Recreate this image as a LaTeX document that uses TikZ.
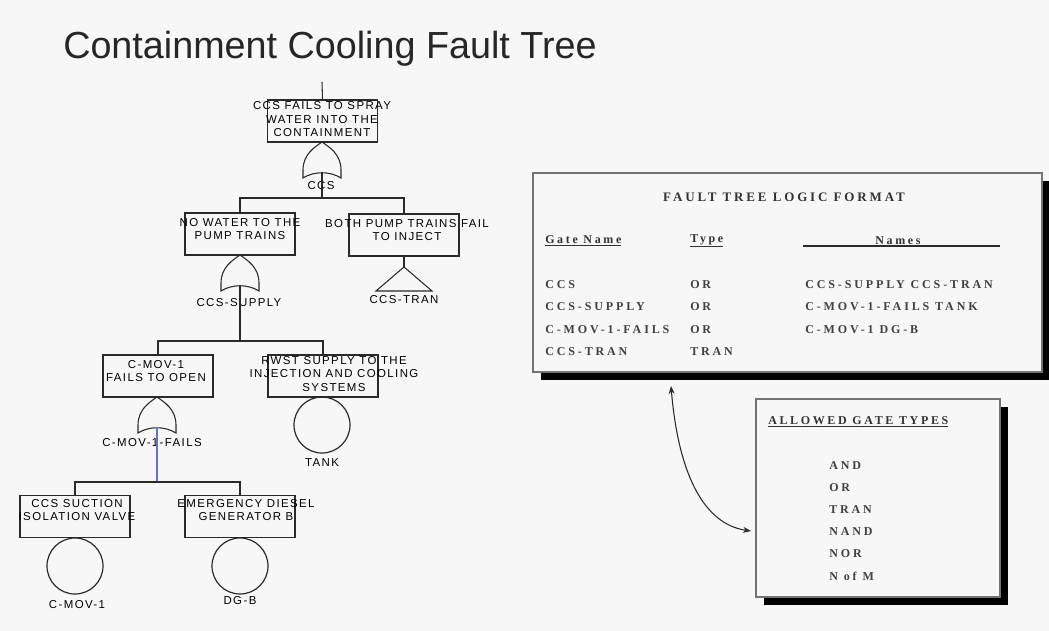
\documentclass[tikz,border=0pt]{standalone}
\usepackage{fontspec}
\usetikzlibrary{arrows.meta,shadows}
\newfontfamily\titlefont{Liberation Sans}
\newfontfamily\treefont[LetterSpace=12]{Liberation Sans}
\newfontfamily\tabfont[LetterSpace=24]{Liberation Serif}
\newfontfamily\tabheadfont[LetterSpace=22]{Liberation Serif}
\definecolor{bg}{HTML}{F7F7F7}
\definecolor{ink}{HTML}{2A2A2A}
\definecolor{bluish}{HTML}{6E6EC8}
\tikzset{
  treebox/.style={draw=ink, line width=0.9pt, minimum width=82.5pt, minimum height=31.5pt, inner sep=0pt},
  treetext/.style={font=\treefont\fontsize{8.6}{10.1}\selectfont, text=black, align=center, inner sep=0pt},
  gatelabel/.style={font=\treefont\fontsize{8.6}{10.1}\selectfont, text=black, inner sep=0pt},
  event/.style={circle, draw=ink, line width=0.9pt, minimum size=42pt, inner sep=0pt},
  conn/.style={draw=ink, line width=0.8pt},
  panel/.style={draw=black!55, line width=1.2pt, fill=bg, inner sep=0pt,
    drop shadow={shadow xshift=6pt, shadow yshift=-6pt, fill=black, opacity=1}},
  tabtext/.style={font=\tabfont\bfseries\fontsize{9}{11}\selectfont, text=black!75, inner sep=0pt, anchor=west},
  tabhead/.style={font=\tabheadfont\bfseries\fontsize{9}{11}\selectfont, text=black!80, inner sep=0pt},
  orgate/.pic={
    \draw[ink, line width=0.8pt] (0,0) .. controls (7,5) and (19,12) .. (19,28) -- (19,36)
      .. controls (8,29) and (-8,29) .. (-19,36) -- (-19,28) .. controls (-19,12) and (-7,5) .. (0,0) -- cycle;
    \coordinate (-top) at (0,0);
    \coordinate (-bot) at (0,30);
  }
}
\begin{document}
\begin{tikzpicture}[x=0.75pt, y=-0.75pt]
\useasboundingbox (0,0) rectangle (1049,631);
\fill[bg] (0,0) rectangle (1049,631);

% title
\node[font=\titlefont\fontsize{28.3}{34}\selectfont, text=black!85, anchor=base west, inner sep=0pt] (title) at (63,59) {Containment Cooling Fault Tree};

% ---------- tree ----------
\coordinate (top) at (322,82);
\node[treebox] (b1) at (322.5,121) {};
\node[treetext] (t1) at (322,119.5) {CCS FAILS TO SPRAY\\WATER INTO THE\\CONTAINMENT};
\draw[conn] (top) -- (b1.north);
\pic (g1) at (322,142) {orgate};
\node[gatelabel] (l1) at (321,186) {CCS};
\coordinate (j1) at (322,198);
\draw[conn] (g1-bot) -- (j1);

\node[treebox] (b2) at (240,234) {};
\node[treetext] (t2) at (240,229) {NO WATER TO THE\\PUMP TRAINS};
\node[treebox] (b3) at (404,235) {};
\node[treetext] (t3) at (407,230) {BOTH PUMP TRAINS FAIL\\TO INJECT};
\draw[conn] (b2.north) |- (j1) -| (b3.north);

% transfer
\coordinate (tr) at (404,267);
\draw[conn] (b3.south) -- (tr);
\draw[ink, line width=0.8pt] (tr) -- ++(28,24) -- ++(-56,0) -- cycle;
\node[gatelabel] (l2) at (404,300) {CCS-TRAN};

\pic (g2) at (240,255) {orgate};
\node[gatelabel] (l3) at (239,303) {CCS-SUPPLY};
\coordinate (j2) at (240,341);
\draw[conn] (g2-bot) -- (j2);

\node[treebox] (b4) at (158,376) {};
\node[treetext] (t4) at (156,371) {C-MOV-1\\FAILS TO OPEN};
\node[treebox] (b5) at (323,376) {};
\node[treetext] (t5) at (334,374) {RWST SUPPLY TO THE\\INJECTION AND COOLING\\SYSTEMS};
\draw[conn] (b4.north) |- (j2) -| (b5.north);

\node[event] (e1) at (322,425) {};
\node[gatelabel] (l4) at (322,463) {TANK};

\pic (g3) at (157,397) {orgate};
\node[gatelabel] (l5) at (152,443) {C-MOV-1-FAILS};
\coordinate (j3) at (157,482);
\draw[draw=bluish, line width=0.8pt] (g3-bot) -- (j3);

\node[treebox] (b6) at (75,516.5) {};
\node[treetext] (t6) at (77,510) {CCS SUCTION\\ISOLATION VALVE};
\node[treebox] (b7) at (240,516.5) {};
\node[treetext] (t7) at (246,510) {EMERGENCY DIESEL\\GENERATOR B};
\draw[conn] (b6.north) |- (j3) -| (b7.north);

\node[event] (e2) at (75,566) {};
\node[gatelabel] (l6) at (77,605) {C-MOV-1};
\node[event] (e3) at (240,566) {};
\node[gatelabel] (l7) at (240,601) {DG-B};

% ---------- logic format panel ----------
\node[panel, minimum width=381.75pt, minimum height=149.25pt] (p1) at (787.5,272.5) {};
\node[font=\tabheadfont\bfseries\fontsize{9.75}{12}\selectfont, text=black!80, inner sep=0pt] (ph) at (784,197) {FAULT TREE LOGIC FORMAT};
\node[tabhead, anchor=west] (h1) at (545,241) {\underline{Gate Name}};
\node[tabhead, anchor=west] (h2) at (690,241) {\underline{Type}};
\node[tabhead] (h3) at (898,241) {Names};
\coordinate (nl) at (803,246);
\coordinate (nr) at (1000,246);
\draw[ink, line width=0.9pt] (nl) -- (nr);

\node[tabtext] (r1a) at (545,285) {CCS};
\node[tabtext] (r1b) at (690,285) {OR};
\node[tabtext] (r1c) at (805,285) {CCS-SUPPLY CCS-TRAN};
\node[tabtext] (r2a) at (545,307) {CCS-SUPPLY};
\node[tabtext] (r2b) at (690,307) {OR};
\node[tabtext] (r2c) at (805,307) {C-MOV-1-FAILS TANK};
\node[tabtext] (r3a) at (545,330) {C-MOV-1-FAILS};
\node[tabtext] (r3b) at (690,330) {OR};
\node[tabtext] (r3c) at (805,330) {C-MOV-1 DG-B};
\node[tabtext] (r4a) at (545,352) {CCS-TRAN};
\node[tabtext] (r4b) at (690,352) {TRAN};

% ---------- allowed gate types panel ----------
\node[panel, minimum width=183pt, minimum height=148.5pt] (p2) at (878,498) {};
\node[tabhead, anchor=west] (ah) at (768,422) {\underline{ALLOWED GATE TYPES}};
\node[tabtext] (a1) at (829,466) {AND};
\node[tabtext] (a2) at (829,488) {OR};
\node[tabtext] (a3) at (829,510) {TRAN};
\node[tabtext] (a4) at (829,532) {NAND};
\node[tabtext] (a5) at (829,554) {NOR};
\node[tabtext] (a6) at (829,576) {N of M};

% connector arrow
\coordinate (arA) at (671,386);
\coordinate (arB) at (751,531);
\draw[ink, line width=0.8pt, {Stealth[length=6pt,width=4.5pt]}-{Stealth[length=6pt,width=4.5pt]}]
  (arA) .. controls (678,470) and (702,524) .. (arB);
\end{tikzpicture}
\end{document}
